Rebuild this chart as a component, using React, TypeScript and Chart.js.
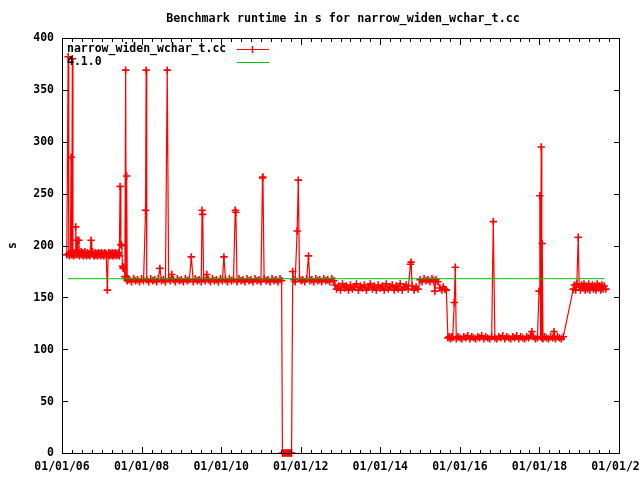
import React, { useEffect, useRef } from "react";
import { Chart, registerables } from "chart.js";

Chart.register(...registerables);

// [decimal year, runtime in s]
const runs2006: [number, number][] = [
  [2006.12, 191], [2006.155, 382], [2006.17, 192], [2006.19, 190], [2006.21, 193], [2006.23, 285],
  [2006.245, 191], [2006.26, 380], [2006.275, 192], [2006.29, 190], [2006.31, 193], [2006.33, 191],
  [2006.345, 218], [2006.36, 192], [2006.38, 205], [2006.39, 191], [2006.41, 193], [2006.425, 205],
  [2006.44, 190], [2006.46, 192], [2006.48, 194], [2006.5, 191], [2006.52, 193], [2006.54, 190],
  [2006.56, 192], [2006.58, 194], [2006.6, 191], [2006.62, 190], [2006.64, 193], [2006.66, 191],
  [2006.68, 192], [2006.7, 190], [2006.73, 205], [2006.75, 192], [2006.77, 194], [2006.79, 191],
  [2006.81, 190], [2006.83, 193], [2006.85, 191], [2006.87, 192], [2006.89, 190], [2006.91, 193],
  [2006.93, 191], [2006.95, 192], [2006.97, 190], [2006.99, 193], [2007.01, 191], [2007.03, 192],
  [2007.05, 190], [2007.07, 193], [2007.09, 191], [2007.11, 192], [2007.14, 157], [2007.16, 191],
  [2007.18, 193], [2007.2, 190], [2007.22, 192], [2007.24, 191], [2007.26, 193], [2007.28, 190],
  [2007.3, 192], [2007.32, 191], [2007.34, 193], [2007.36, 190], [2007.38, 192], [2007.4, 191],
  [2007.42, 193], [2007.44, 190], [2007.46, 257], [2007.48, 201], [2007.5, 200], [2007.52, 180],
  [2007.535, 178], [2007.55, 179],
];

const runs2008: [number, number][] = [
  [2007.58, 170], [2007.6, 369], [2007.615, 168], [2007.625, 267], [2007.64, 166], [2007.66, 168],
  [2007.7, 167], [2007.75, 165], [2007.8, 168], [2007.85, 166], [2007.9, 167], [2007.95, 165],
  [2008.0, 168], [2008.05, 166], [2008.1, 234], [2008.115, 369], [2008.13, 167], [2008.18, 165],
  [2008.23, 168], [2008.28, 166], [2008.33, 167], [2008.38, 165], [2008.42, 168], [2008.46, 178],
  [2008.5, 166], [2008.55, 167], [2008.6, 165], [2008.645, 369], [2008.68, 168], [2008.72, 166],
  [2008.76, 172], [2008.8, 167], [2008.85, 165], [2008.9, 168], [2008.95, 166], [2009.0, 167],
  [2009.05, 165], [2009.1, 168], [2009.15, 166], [2009.2, 167], [2009.25, 189], [2009.3, 165],
  [2009.35, 168], [2009.4, 166], [2009.45, 167], [2009.5, 165], [2009.52, 234], [2009.535, 230],
  [2009.56, 168], [2009.6, 166], [2009.64, 172], [2009.68, 167], [2009.73, 165], [2009.78, 168],
  [2009.83, 166], [2009.88, 167], [2009.93, 165], [2009.98, 168], [2010.03, 166], [2010.07, 189],
  [2010.11, 167], [2010.16, 165], [2010.21, 168], [2010.26, 166], [2010.31, 167], [2010.355, 234],
  [2010.37, 232], [2010.4, 165], [2010.45, 168], [2010.5, 166], [2010.55, 167], [2010.6, 165],
  [2010.65, 168], [2010.7, 166], [2010.75, 167], [2010.8, 165], [2010.85, 168], [2010.9, 166],
  [2010.95, 167], [2011.0, 165], [2011.04, 265], [2011.05, 266], [2011.08, 168], [2011.13, 166],
  [2011.18, 167], [2011.23, 165], [2011.28, 168], [2011.33, 166], [2011.38, 167], [2011.43, 165],
  [2011.48, 168], [2011.52, 166],
];

const runs2011: [number, number][] = [
  [2011.54, 0], [2011.57, 0], [2011.6, 0], [2011.63, 0], [2011.66, 0], [2011.69, 0],
  [2011.72, 0], [2011.75, 0], [2011.77, 0], [2011.8, 175], [2011.83, 167], [2011.86, 165],
  [2011.91, 214], [2011.94, 263], [2011.97, 168], [2012.01, 166], [2012.05, 167], [2012.1, 165],
  [2012.15, 168], [2012.195, 190], [2012.23, 166], [2012.28, 167], [2012.33, 165], [2012.38, 168],
  [2012.43, 166], [2012.48, 167], [2012.53, 165], [2012.58, 168], [2012.63, 166], [2012.68, 167],
  [2012.73, 165], [2012.78, 168], [2012.83, 166],
];

const runs2013: [number, number][] = [
  [2012.86, 162], [2012.9, 158], [2012.95, 161], [2013.0, 157], [2013.05, 163], [2013.1, 159],
  [2013.15, 161], [2013.2, 157], [2013.25, 162], [2013.3, 158], [2013.35, 160], [2013.4, 163],
  [2013.45, 157], [2013.5, 161], [2013.55, 159], [2013.6, 162], [2013.65, 157], [2013.7, 160],
  [2013.75, 163], [2013.8, 158], [2013.85, 161], [2013.9, 157], [2013.95, 162], [2014.0, 159],
  [2014.05, 161], [2014.1, 157], [2014.15, 163], [2014.2, 158], [2014.25, 160], [2014.3, 162],
  [2014.35, 157], [2014.4, 161], [2014.45, 158], [2014.5, 163], [2014.55, 157], [2014.6, 160],
  [2014.65, 162], [2014.7, 158], [2014.76, 182], [2014.775, 184], [2014.8, 161], [2014.85, 157],
  [2014.9, 160], [2014.95, 158],
];

const runs2015: [number, number][] = [
  [2015.0, 167], [2015.05, 165], [2015.1, 168], [2015.15, 166], [2015.2, 167], [2015.25, 165],
  [2015.3, 168], [2015.34, 166], [2015.37, 156], [2015.4, 167], [2015.45, 165], [2015.5, 159],
  [2015.55, 157], [2015.58, 160], [2015.62, 158], [2015.66, 157],
];

const runs2016: [number, number][] = [
  [2015.7, 111], [2015.73, 112], [2015.76, 110], [2015.79, 112], [2015.82, 111], [2015.86, 145],
  [2015.885, 179], [2015.91, 110], [2015.95, 112], [2016.0, 111], [2016.05, 110], [2016.1, 112],
  [2016.15, 111], [2016.2, 113], [2016.25, 110], [2016.3, 112], [2016.35, 111], [2016.4, 110],
  [2016.45, 112], [2016.5, 111], [2016.55, 113], [2016.6, 110], [2016.65, 112], [2016.7, 111],
  [2016.75, 110], [2016.8, 112], [2016.84, 223], [2016.88, 111], [2016.93, 110], [2016.98, 112],
  [2017.03, 111], [2017.08, 113], [2017.13, 110], [2017.18, 112], [2017.23, 111], [2017.28, 110],
  [2017.33, 112], [2017.38, 111], [2017.43, 113], [2017.48, 110], [2017.53, 112], [2017.58, 111],
  [2017.63, 110], [2017.68, 112], [2017.73, 111], [2017.78, 113], [2017.81, 117], [2017.85, 112],
  [2017.9, 110], [2017.95, 111], [2017.99, 156], [2018.01, 248], [2018.03, 112], [2018.045, 295],
  [2018.06, 111], [2018.07, 202], [2018.09, 110], [2018.13, 112], [2018.18, 111], [2018.23, 110],
  [2018.28, 112], [2018.33, 111], [2018.365, 117], [2018.4, 110], [2018.45, 112], [2018.5, 111],
  [2018.55, 110], [2018.6, 112],
];

const runs2019: [number, number][] = [
  [2018.85, 158], [2018.88, 162], [2018.91, 157], [2018.94, 163], [2018.975, 208], [2019.0, 160],
  [2019.03, 157], [2019.06, 162], [2019.09, 159], [2019.12, 163], [2019.15, 157], [2019.18, 161],
  [2019.21, 158], [2019.24, 163], [2019.27, 157], [2019.3, 160], [2019.33, 162], [2019.36, 158],
  [2019.39, 161], [2019.42, 157], [2019.45, 163], [2019.48, 159], [2019.51, 161], [2019.54, 157],
  [2019.57, 162], [2019.6, 158], [2019.63, 161], [2019.67, 158],
];

const baseline410: [number, number][] = [
  [2006.15, 168], [2019.64, 168],
];

const xTickYears = [2006, 2008, 2010, 2012, 2014, 2016, 2018, 2020];
const yTicks = [0, 50, 100, 150, 200, 250, 300, 350, 400];
const titleText = "Benchmark runtime in s for narrow_widen_wchar_t.cc";
const seriesName = "narrow_widen_wchar_t.cc";
const baselineName = "4.1.0";
const yAxisTitle = "s";

const RED = "#ff0000";
const GREEN = "#00c000";
const FONT = "bold 11.5px 'DejaVu Sans Mono', monospace";
const TITLE_FONT = "bold 11.75px 'DejaVu Sans Mono', monospace";

const fmtDate = (yr: number) => "01/01/" + String(yr % 100).padStart(2, "0");

const gnuplotFrame = {
  id: "gnuplotFrame",
  beforeDraw(chart: any) {
    const ctx = chart.ctx;
    ctx.save();
    ctx.fillStyle = "#ffffff";
    ctx.fillRect(0, 0, chart.width, chart.height);
    ctx.restore();
  },
  afterDraw(chart: any) {
    const ctx = chart.ctx;
    const { left, right, top, bottom } = chart.chartArea;
    const xs = chart.scales.x;
    const ys = chart.scales.y;
    ctx.save();
    ctx.strokeStyle = "#000000";
    ctx.lineWidth = 1;
    ctx.strokeRect(left + 0.5, top + 0.5, right - left, bottom - top);
    ctx.beginPath();
    yTicks.forEach((v) => {
      const py = Math.round(ys.getPixelForValue(v)) + 0.5;
      ctx.moveTo(left, py);
      ctx.lineTo(left + 6, py);
      ctx.moveTo(right + 1, py);
      ctx.lineTo(right + 1 - 6, py);
    });
    for (let q = 0; q <= (2020 - 2006) * 4; q++) {
      const yr = 2006 + q / 4;
      const major = q % 8 === 0;
      const len = major ? 6 : 3;
      const px = Math.round(xs.getPixelForValue(yr)) + 0.5;
      ctx.moveTo(px, bottom);
      ctx.lineTo(px, bottom - len);
      ctx.moveTo(px, top + 1);
      ctx.lineTo(px, top + 1 + len);
    }
    ctx.stroke();

    ctx.fillStyle = "#000000";
    ctx.font = FONT;
    ctx.textBaseline = "middle";
    ctx.textAlign = "right";
    yTicks.forEach((v) => {
      ctx.fillText(String(v), 54, ys.getPixelForValue(v) + 0.5);
    });
    ctx.textAlign = "center";
    xTickYears.forEach((yr) => {
      ctx.fillText(fmtDate(yr), xs.getPixelForValue(yr), 467);
    });

    ctx.font = TITLE_FONT;
    ctx.fillText(titleText, 343, 19);

    ctx.save();
    ctx.translate(13, (top + bottom) / 2);
    ctx.rotate(-Math.PI / 2);
    ctx.font = FONT;
    ctx.fillText(yAxisTitle, 0, 0);
    ctx.restore();

    ctx.font = FONT;
    ctx.textAlign = "left";
    ctx.fillText(seriesName, 67, 49);
    ctx.fillText(baselineName, 67, 62);
    ctx.strokeStyle = RED;
    ctx.lineWidth = 1;
    ctx.beginPath();
    ctx.moveTo(237, 49.5);
    ctx.lineTo(269, 49.5);
    ctx.stroke();
    ctx.lineWidth = 1.5;
    ctx.beginPath();
    ctx.moveTo(252.5, 46);
    ctx.lineTo(252.5, 53);
    ctx.stroke();
    ctx.lineWidth = 1;
    ctx.strokeStyle = GREEN;
    ctx.beginPath();
    ctx.moveTo(237, 62.5);
    ctx.lineTo(269, 62.5);
    ctx.stroke();
    ctx.restore();
  },
};

export default function App() {
  const ref = useRef<HTMLCanvasElement | null>(null);
  useEffect(() => {
    if (!ref.current) return;
    const redPoints = [
      ...runs2006, ...runs2008, ...runs2011, ...runs2013, ...runs2015, ...runs2016, ...runs2019,
    ].map(([x, y]) => ({ x, y }));
    const chart = new Chart(ref.current, {
      type: "line",
      data: {
        datasets: [
          {
            label: baselineName,
            data: baseline410.map(([x, y]) => ({ x, y })),
            borderColor: GREEN,
            borderWidth: 1,
            pointRadius: 0,
            clip: false as any,
            order: 0,
          },
          {
            label: seriesName,
            data: redPoints,
            borderColor: RED,
            borderWidth: 1.2,
            pointStyle: "cross",
            pointRadius: 3.7,
            pointBorderColor: RED,
            pointBackgroundColor: RED,
            pointBorderWidth: 1.6,
            tension: 0,
            clip: false as any,
            order: 1,
          },
        ],
      },
      options: {
        animation: false,
        responsive: false,
        devicePixelRatio: 1,
        layout: { padding: { left: 62, top: 38, right: 21, bottom: 27 } },
        scales: {
          x: { type: "linear", min: 2006, max: 2020, display: false },
          y: { type: "linear", min: 0, max: 400, display: false },
        },
        plugins: {
          legend: { display: false },
          tooltip: { enabled: false },
          title: { display: false },
        },
      },
      plugins: [gnuplotFrame],
    });
    return () => chart.destroy();
  }, []);
  return (
    <div style={{ position: "absolute", left: 0, top: 0, width: 640, height: 480 }}>
      <canvas ref={ref} width={640} height={480} style={{ display: "block" }} />
    </div>
  );
}
